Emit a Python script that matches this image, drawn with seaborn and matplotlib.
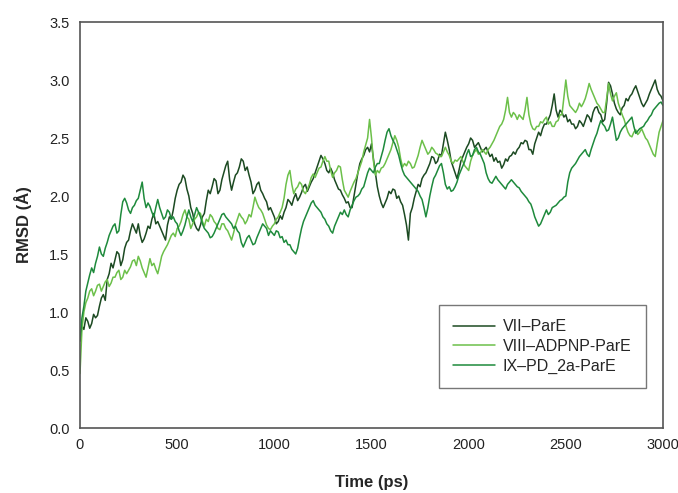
import numpy as np
import pandas as pd
import matplotlib
matplotlib.use("Agg")
import matplotlib.pyplot as plt
import seaborn as sns

time_ps = list(range(0, 3001, 10))

vii_parE = [
    0.75, 0.88, 0.85, 0.95, 0.92, 0.86, 0.90, 0.98, 0.95, 0.97,
    1.05, 1.12, 1.15, 1.10, 1.28, 1.33, 1.42, 1.38, 1.45, 1.52,
    1.50, 1.40, 1.45, 1.55, 1.60, 1.62, 1.70, 1.76, 1.72, 1.68,
    1.76, 1.66, 1.60, 1.63, 1.68, 1.74, 1.72, 1.80, 1.85, 1.76,
    1.78, 1.74, 1.70, 1.66, 1.62, 1.75, 1.82, 1.80, 1.88, 1.98,
    2.05, 2.10, 2.12, 2.18, 2.15, 2.06, 2.00, 1.90, 1.85, 1.76,
    1.72, 1.70, 1.75, 1.82, 1.85, 1.96, 2.05, 2.02, 2.08, 2.15,
    2.13, 2.02, 2.05, 2.14, 2.20, 2.26, 2.30, 2.14, 2.05, 2.12,
    2.18, 2.20, 2.25, 2.32, 2.30, 2.22, 2.25, 2.18, 2.12, 2.02,
    2.05, 2.10, 2.12, 2.05, 2.02, 1.98, 1.95, 1.88, 1.90, 1.86,
    1.82, 1.76, 1.78, 1.83, 1.80, 1.86, 1.90, 1.97, 1.95, 1.92,
    1.98, 2.02, 1.96, 1.99, 2.03, 2.08, 2.10, 2.04, 2.08, 2.12,
    2.15, 2.20, 2.25, 2.30, 2.35, 2.32, 2.28, 2.22, 2.20, 2.24,
    2.20, 2.14, 2.10, 2.06, 2.05, 2.01, 1.98, 1.94, 1.95, 1.90,
    1.90, 2.00, 2.10, 2.20, 2.28, 2.32, 2.35, 2.40, 2.42, 2.38,
    2.45, 2.32, 2.20, 2.08, 2.00, 1.94, 1.90, 1.94, 1.98, 2.04,
    2.02, 2.06, 2.05, 1.98, 2.00, 1.95, 1.92, 1.84, 1.75, 1.62,
    1.85, 1.90, 1.98, 2.04, 2.10, 2.08, 2.15, 2.18, 2.20, 2.24,
    2.28, 2.34, 2.33, 2.28, 2.30, 2.36, 2.35, 2.45, 2.55, 2.48,
    2.40, 2.30, 2.25, 2.20, 2.15, 2.22, 2.30, 2.34, 2.38, 2.42,
    2.45, 2.50, 2.48, 2.42, 2.44, 2.46, 2.42, 2.38, 2.40, 2.42,
    2.38, 2.34, 2.36, 2.30, 2.33, 2.29, 2.30, 2.24, 2.27, 2.32,
    2.30, 2.34, 2.35, 2.38, 2.36, 2.40, 2.42, 2.46, 2.45, 2.48,
    2.47, 2.40, 2.40, 2.36, 2.45, 2.50, 2.55, 2.52, 2.58, 2.62,
    2.62, 2.66, 2.70, 2.78, 2.88, 2.74, 2.68, 2.74, 2.72, 2.68,
    2.70, 2.64, 2.66, 2.62, 2.62, 2.58, 2.60, 2.65, 2.63, 2.60,
    2.65, 2.70, 2.68, 2.64, 2.72, 2.76, 2.77, 2.72, 2.70, 2.64,
    2.66, 2.80, 2.98, 2.95, 2.88, 2.80, 2.75, 2.72, 2.70, 2.76,
    2.78, 2.84, 2.82, 2.86, 2.88, 2.92, 2.95, 2.90, 2.85, 2.80,
    2.77, 2.80, 2.83, 2.88, 2.92, 2.96, 3.00, 2.92, 2.88, 2.86,
    2.82]

viii_adpnp_parE = [
    0.47, 0.85, 1.00, 1.08, 1.12, 1.18, 1.20, 1.14, 1.18, 1.23,
    1.24, 1.18, 1.22, 1.26, 1.28, 1.22, 1.25, 1.30, 1.30, 1.34,
    1.36, 1.28, 1.30, 1.36, 1.33, 1.36, 1.39, 1.44, 1.45, 1.40,
    1.48, 1.44, 1.38, 1.34, 1.30, 1.38, 1.46, 1.40, 1.42, 1.37,
    1.33, 1.40, 1.48, 1.52, 1.55, 1.58, 1.62, 1.66, 1.68, 1.65,
    1.72, 1.74, 1.78, 1.84, 1.88, 1.82, 1.80, 1.72, 1.76, 1.80,
    1.82, 1.86, 1.85, 1.78, 1.74, 1.80, 1.78, 1.84, 1.82, 1.78,
    1.76, 1.72, 1.71, 1.76, 1.76, 1.72, 1.70, 1.66, 1.62, 1.68,
    1.75, 1.80, 1.85, 1.82, 1.80, 1.76, 1.79, 1.84, 1.82, 1.90,
    1.99, 1.94, 1.90, 1.88, 1.85, 1.80, 1.75, 1.72, 1.71, 1.74,
    1.76, 1.80, 1.82, 1.86, 1.90, 1.98, 2.10, 2.18, 2.22, 2.10,
    2.02, 2.06, 2.08, 2.12, 2.10, 2.04, 2.02, 2.06, 2.10, 2.16,
    2.19, 2.16, 2.20, 2.24, 2.25, 2.30, 2.34, 2.30, 2.30, 2.22,
    2.16, 2.20, 2.22, 2.26, 2.25, 2.14, 2.05, 2.02, 1.99, 2.04,
    2.08, 2.12, 2.15, 2.20, 2.25, 2.30, 2.38, 2.44, 2.50, 2.66,
    2.50, 2.30, 2.18, 2.22, 2.20, 2.24, 2.25, 2.28, 2.32, 2.36,
    2.40, 2.46, 2.52, 2.48, 2.42, 2.32, 2.25, 2.28, 2.26, 2.30,
    2.28, 2.24, 2.25, 2.30, 2.35, 2.42, 2.48, 2.44, 2.40, 2.36,
    2.38, 2.42, 2.40, 2.37, 2.36, 2.34, 2.34, 2.38, 2.42, 2.38,
    2.35, 2.30, 2.28, 2.31, 2.30, 2.32, 2.34, 2.30, 2.26, 2.24,
    2.22, 2.30, 2.35, 2.38, 2.40, 2.36, 2.37, 2.40, 2.38, 2.36,
    2.40, 2.42, 2.45, 2.48, 2.52, 2.56, 2.60, 2.62, 2.66, 2.74,
    2.85, 2.72, 2.68, 2.72, 2.70, 2.66, 2.70, 2.68, 2.66, 2.74,
    2.85, 2.70, 2.62, 2.58, 2.57, 2.60, 2.60, 2.64, 2.63, 2.66,
    2.68, 2.62, 2.64, 2.60, 2.60, 2.64, 2.65, 2.70, 2.70, 2.85,
    3.00, 2.86, 2.78, 2.76, 2.74, 2.72, 2.75, 2.80, 2.77, 2.80,
    2.84, 2.90, 2.97, 2.92, 2.88, 2.84, 2.80, 2.78, 2.75, 2.72,
    2.72, 2.84, 2.97, 2.88, 2.82, 2.86, 2.89, 2.80, 2.75, 2.70,
    2.66, 2.60, 2.55, 2.52, 2.51, 2.55, 2.57, 2.53, 2.55, 2.58,
    2.54, 2.50, 2.48, 2.44, 2.40, 2.36, 2.34, 2.45, 2.55, 2.60,
    2.65]

ix_pd2a_parE = [
    0.75, 0.95, 1.05, 1.18, 1.25, 1.32, 1.38, 1.34, 1.42, 1.48,
    1.56, 1.50, 1.48, 1.55, 1.60, 1.66, 1.70, 1.74, 1.76, 1.68,
    1.70, 1.84, 1.95, 1.98, 1.94, 1.88, 1.85, 1.90, 1.92, 1.96,
    1.98, 2.05, 2.12, 1.98, 1.90, 1.94, 1.91, 1.86, 1.82, 1.90,
    1.97, 1.90, 1.85, 1.80, 1.82, 1.88, 1.86, 1.80, 1.82, 1.78,
    1.76, 1.70, 1.66, 1.70, 1.75, 1.82, 1.88, 1.82, 1.78, 1.84,
    1.90, 1.86, 1.82, 1.76, 1.72, 1.70, 1.68, 1.64, 1.65, 1.68,
    1.72, 1.76, 1.80, 1.84, 1.85, 1.82, 1.80, 1.78, 1.76, 1.72,
    1.74, 1.70, 1.68, 1.60, 1.56, 1.60, 1.64, 1.66, 1.62, 1.58,
    1.59, 1.64, 1.68, 1.72, 1.76, 1.74, 1.72, 1.66, 1.70, 1.68,
    1.66, 1.70, 1.69, 1.64, 1.65, 1.60, 1.62, 1.58, 1.58, 1.54,
    1.52, 1.50, 1.55, 1.64, 1.72, 1.78, 1.82, 1.86, 1.90, 1.94,
    1.96, 1.92, 1.90, 1.88, 1.86, 1.82, 1.80, 1.76, 1.74, 1.70,
    1.68, 1.74, 1.78, 1.82, 1.86, 1.84, 1.88, 1.84, 1.82, 1.88,
    1.92, 1.96, 1.99, 2.00, 2.02, 2.06, 2.08, 2.14, 2.20, 2.24,
    2.22, 2.20, 2.25, 2.28, 2.28, 2.34, 2.40, 2.48, 2.55, 2.58,
    2.52, 2.48, 2.45, 2.40, 2.35, 2.28, 2.22, 2.18, 2.16, 2.14,
    2.12, 2.10, 2.08, 2.06, 2.04, 2.00, 1.97, 1.90, 1.82, 1.90,
    2.00, 2.08, 2.15, 2.18, 2.22, 2.26, 2.28, 2.20, 2.10, 2.06,
    2.08, 2.04, 2.05, 2.08, 2.12, 2.18, 2.22, 2.26, 2.30, 2.36,
    2.40, 2.34, 2.35, 2.40, 2.42, 2.38, 2.36, 2.32, 2.28, 2.20,
    2.15, 2.12, 2.11, 2.14, 2.17, 2.14, 2.12, 2.10, 2.08, 2.06,
    2.10, 2.12, 2.14, 2.12, 2.10, 2.08, 2.07, 2.04, 2.02, 2.00,
    1.98, 1.95, 1.93, 1.88, 1.82, 1.78, 1.74, 1.76, 1.80, 1.84,
    1.88, 1.84, 1.86, 1.90, 1.91, 1.92, 1.94, 1.96, 1.97, 1.99,
    2.00, 2.12, 2.20, 2.24, 2.26, 2.28, 2.31, 2.34, 2.36, 2.38,
    2.40, 2.36, 2.34, 2.40, 2.45, 2.50, 2.54, 2.60, 2.65, 2.62,
    2.60, 2.56, 2.57, 2.62, 2.68, 2.58, 2.48, 2.50, 2.55, 2.58,
    2.60, 2.62, 2.64, 2.66, 2.68, 2.60, 2.54, 2.56, 2.58, 2.59,
    2.60, 2.63, 2.65, 2.68, 2.70, 2.74, 2.76, 2.78, 2.80, 2.81,
    2.78]

series_names = ["VII\u2013ParE", "VIII\u2013ADPNP-ParE", "IX\u2013PD_2a-ParE"]
series_colors = ["#1c4a22", "#6cc04a", "#1e8a3c"]

df = pd.concat([
    pd.DataFrame({"Time": time_ps, "RMSD": vals, "System": name})
    for name, vals in zip(series_names, [vii_parE, viii_adpnp_parE, ix_pd2a_parE])
], ignore_index=True)

sns.set_style("white")
plt.rcParams["font.family"] = ["Liberation Sans", "DejaVu Sans"]

fig = plt.figure(figsize=(6.78, 4.93), dpi=100)
ax = fig.add_axes([80 / 678, (493 - 428) / 493, 583 / 678, 406 / 493])

sns.lineplot(data=df, x="Time", y="RMSD", hue="System", hue_order=series_names,
             palette=dict(zip(series_names, series_colors)), linewidth=1.1, ax=ax)

ax.set_xlim(0, 3000)
ax.set_ylim(0, 3.5)
ax.set_xticks(range(0, 3001, 500))
ax.set_yticks(np.arange(0, 3.51, 0.5))
ax.set_yticklabels([f"{v:.1f}" for v in np.arange(0, 3.51, 0.5)])
ax.tick_params(axis="both", direction="inout", length=7, width=1, color="#444444",
               labelsize=10.5, labelcolor="#222222", pad=4)
for s in ax.spines.values():
    s.set_color("#555555")
    s.set_linewidth(1.2)

ax.set_xlabel("Time (ps)", fontsize=12, fontweight="bold", labelpad=16)
ax.set_ylabel("RMSD (\u00c5)", fontsize=12, fontweight="bold", labelpad=12)

leg = ax.legend(loc="lower right", bbox_to_anchor=(0.971, 0.098), borderaxespad=0,
                fontsize=11.5, frameon=True, fancybox=False, edgecolor="#555555",
                handlelength=2.6, borderpad=0.9, labelspacing=0.3, handletextpad=0.5,
                title=None)
leg.get_frame().set_linewidth(1.0)

fig.savefig("out.png", dpi=100)
